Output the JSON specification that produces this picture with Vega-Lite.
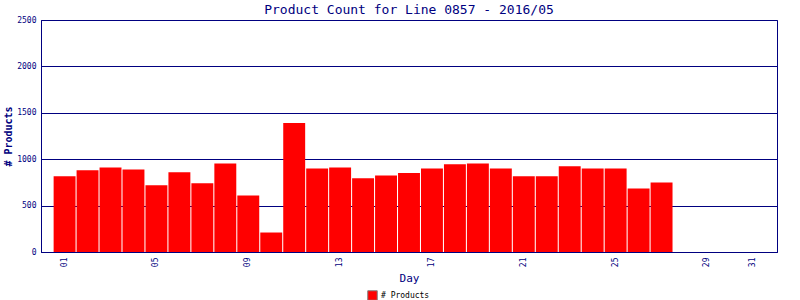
{
  "$schema": "https://vega.github.io/schema/vega-lite/v6.json",
  "autosize": "none",
  "width": 736,
  "height": 232,
  "padding": {"left": 41, "top": 20, "right": 23, "bottom": 48},
  "background": "white",
  "title": {
    "text": "Product Count for Line 0857 - 2016/05",
    "font": "DejaVu Sans Mono",
    "fontSize": 13,
    "fontWeight": "normal",
    "color": "#000080",
    "anchor": "middle",
    "offset": 0,
    "dy": 1
  },
  "data": {
    "values": [
      {"day": "01", "count": 815},
      {"day": "02", "count": 880},
      {"day": "03", "count": 910},
      {"day": "04", "count": 890},
      {"day": "05", "count": 720},
      {"day": "06", "count": 860},
      {"day": "07", "count": 740},
      {"day": "08", "count": 955},
      {"day": "09", "count": 610},
      {"day": "10", "count": 210},
      {"day": "11", "count": 1390},
      {"day": "12", "count": 900},
      {"day": "13", "count": 910},
      {"day": "14", "count": 795},
      {"day": "15", "count": 825},
      {"day": "16", "count": 850},
      {"day": "17", "count": 900},
      {"day": "18", "count": 945},
      {"day": "19", "count": 955},
      {"day": "20", "count": 900},
      {"day": "21", "count": 815},
      {"day": "22", "count": 815},
      {"day": "23", "count": 925},
      {"day": "24", "count": 900},
      {"day": "25", "count": 900},
      {"day": "26", "count": 685},
      {"day": "27", "count": 750}
    ]
  },
  "mark": {"type": "bar", "color": "#ff0000"},
  "encoding": {
    "x": {
      "field": "day",
      "type": "ordinal",
      "scale": {
        "domain": ["01","02","03","04","05","06","07","08","09","10","11","12","13","14","15","16","17","18","19","20","21","22","23","24","25","26","27","28","29","30","31"],
        "paddingInner": 0.045,
        "paddingOuter": 0.55
      },
      "axis": {
        "title": "Day",
        "titleFont": "DejaVu Sans Mono",
        "titleFontSize": 11,
        "titleFontWeight": "normal",
        "titleColor": "#000080",
        "titlePadding": 6,
        "labelFont": "DejaVu Sans Mono",
        "labelFontSize": 8,
        "labelColor": "#000080",
        "labelAngle": -90,
        "labelPadding": 5,
        "labelExpr": "indexof(['01','05','09','13','17','21','25','29','31'], datum.value) >= 0 ? datum.value : ''",
        "ticks": false,
        "domainColor": "#000080",
        "grid": false
      }
    },
    "y": {
      "field": "count",
      "type": "quantitative",
      "scale": {"domain": [0, 2500], "nice": false},
      "axis": {
        "title": "# Products",
        "titleFont": "DejaVu Sans Mono",
        "titleFontSize": 10,
        "titleFontWeight": "bold",
        "titleColor": "#000080",
        "titlePadding": 3,
        "labelFont": "DejaVu Sans Mono",
        "labelFontSize": 8,
        "labelColor": "#000080",
        "labelPadding": 5,
        "format": "d",
        "values": [0, 500, 1000, 1500, 2000, 2500],
        "ticks": false,
        "domainColor": "#000080",
        "grid": true,
        "gridColor": "#000080",
        "gridOpacity": 1
      }
    },
    "color": {
      "datum": "# Products",
      "scale": {"range": ["#ff0000"]},
      "legend": {
        "title": null,
        "orient": "none",
        "direction": "horizontal",
        "legendX": 326,
        "legendY": 270,
        "symbolType": "square",
        "symbolSize": 90,
        "symbolStrokeColor": "#808080",
        "symbolStrokeWidth": 1,
        "labelFont": "DejaVu Sans Mono",
        "labelFontSize": 8,
        "labelColor": "#000000",
        "labelOffset": 3
      }
    }
  },
  "config": {
    "view": {"stroke": "#000080", "strokeWidth": 1}
  }
}
